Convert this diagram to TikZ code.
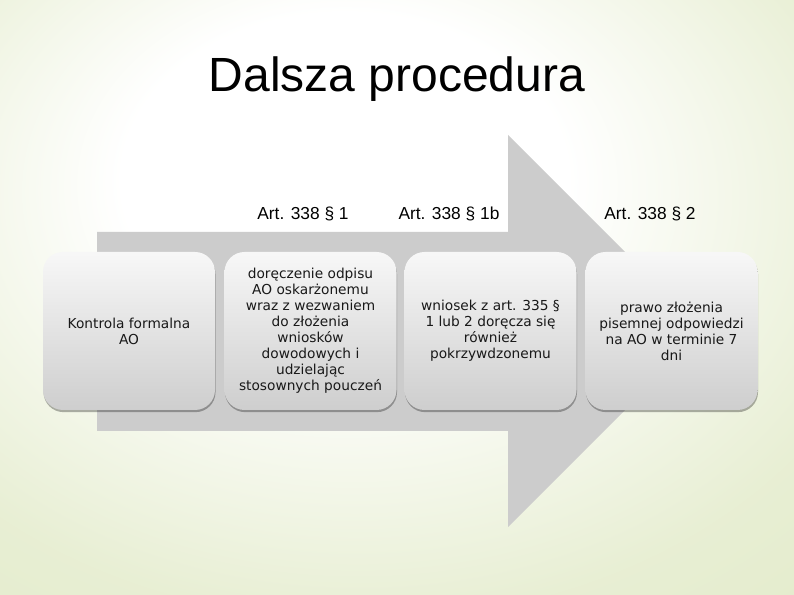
\documentclass[tikz,border=0pt]{standalone}
\usepackage{fontspec}
\setmainfont{Liberation Sans}
\newfontfamily\boxfont{DejaVu Sans}
\usepackage{xcolor}
\usetikzlibrary{positioning, shadows}
\definecolor{bgreen}{RGB}{224,233,197}
\definecolor{agray}{RGB}{204,204,204}
\definecolor{bgray}{RGB}{206,206,206}
\definecolor{tdark}{RGB}{25,25,25}
\pgfdeclareradialshading{slidebg}{\pgfpoint{-4bp}{12bp}}{%
  color(0bp)=(white); color(14bp)=(white);
  color(34bp)=(bgreen!75!white); color(52bp)=(bgreen); color(80bp)=(bgreen)}

\begin{document}
\begin{tikzpicture}[x=0.75pt, y=-0.75pt,
  stepbox/.style={rounded corners=15pt, minimum width=129pt, minimum height=118.5pt,
    top color=white!97!black, bottom color=bgray, align=center, text=tdark,
    font=\boxfont\fontsize{10.3}{12}\selectfont, inner sep=2pt,
    drop shadow={shadow xshift=0.4pt, shadow yshift=-1.6pt, opacity=0.3, fill=black}},
  artlabel/.style={font=\fontsize{13}{15}\selectfont, text=black}]

  % slide background
  \shade[shading=slidebg] (0,0) rectangle (794,595);
  \useasboundingbox (0,0) rectangle (794,595);

  % title
  \node[font=\fontsize{36}{40}\selectfont, anchor=base] (title) at (397,92) {Dalsza procedura};

  % big grey arrow
  \fill[agray] (97,232) -- (508,232) -- (508,135) -- (704,331)
    -- (508,527) -- (508,431) -- (97,431) -- cycle;

  % article labels
  \node[artlabel] (l1) at (303,214) {Art. 338 § 1};
  \node[artlabel] (l2) at (449,214) {Art. 338 § 1b};
  \node[artlabel] (l3) at (650,214) {Art. 338 § 2};

  % steps
  \node[stepbox] (b1) at (129,331) {Kontrola formalna\\AO};
  \node[stepbox] (b2) at (310.5,331) {doręczenie odpisu\\AO oskarżonemu\\wraz z wezwaniem\\do złożenia\\wniosków\\dowodowych i\\udzielając\\stosownych pouczeń};
  \node[stepbox] (b3) at (490.5,331) {wniosek z art. 335 §\\1 lub 2 doręcza się\\również\\pokrzywdzonemu};
  \node[stepbox] (b4) at (671.5,331) {prawo złożenia\\pisemnej odpowiedzi\\na AO w terminie 7\\dni};

\end{tikzpicture}
\end{document}
